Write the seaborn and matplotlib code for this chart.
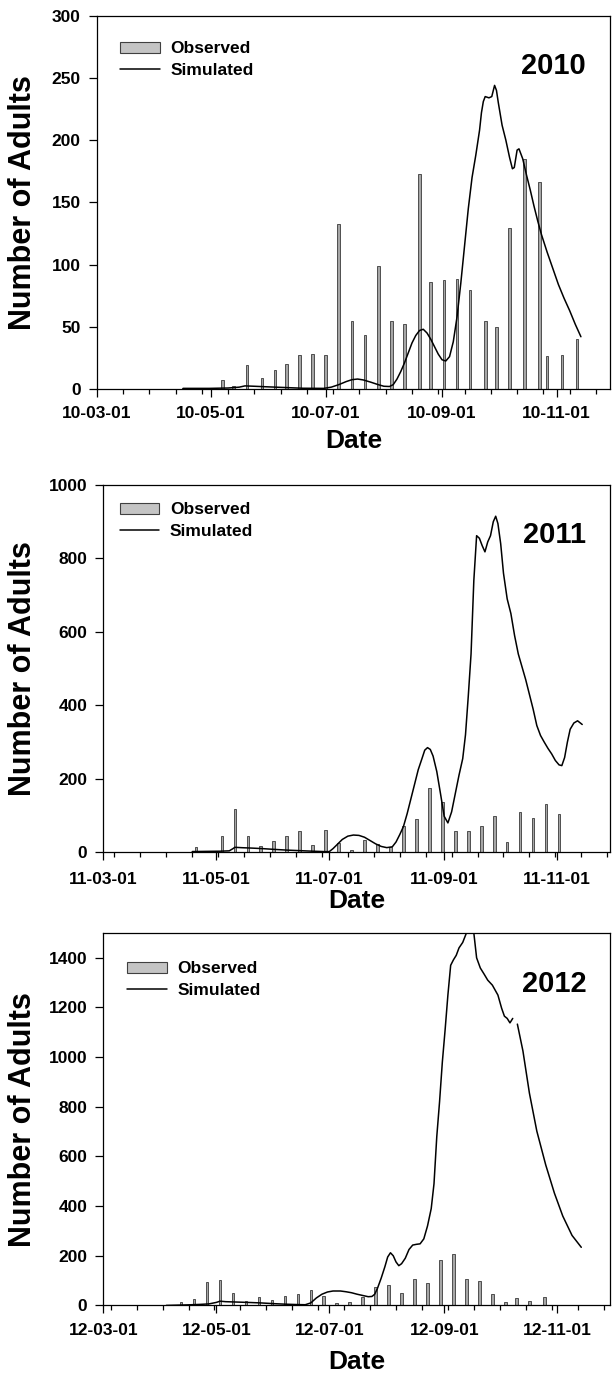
import numpy as np
import pandas as pd
import matplotlib
matplotlib.use("Agg")
import matplotlib.pyplot as plt
import matplotlib.dates as mdates
from matplotlib.patches import Patch
from matplotlib.lines import Line2D
import seaborn as sns

# ---------------- data ----------------
years = ["2010", "2011", "2012"]

obs2010_dates = ["2010-04-16", "2010-04-23", "2010-05-07", "2010-05-13", "2010-05-20", "2010-05-28",
                 "2010-06-04", "2010-06-10", "2010-06-17", "2010-06-24", "2010-07-01", "2010-07-08",
                 "2010-07-15", "2010-07-22", "2010-07-29", "2010-08-05", "2010-08-12", "2010-08-20",
                 "2010-08-26", "2010-09-02", "2010-09-09", "2010-09-16", "2010-09-24", "2010-09-30",
                 "2010-10-07", "2010-10-15", "2010-10-23", "2010-10-27", "2010-11-04", "2010-11-12"]
obs2010 = [1, 1, 7.5, 2.7, 19, 8.6, 15.5, 20.3, 27, 28.4, 27.6, 133, 55, 43.4, 98.5, 54.3, 52.2, 172.6,
           86, 87.8, 88.8, 79.7, 54.3, 49.8, 129.5, 184.6, 166.7, 26.2, 27.3, 40.4]

obs2011_dates = ["2011-04-13", "2011-04-20", "2011-05-04", "2011-05-11", "2011-05-18", "2011-05-25",
                 "2011-06-01", "2011-06-08", "2011-06-15", "2011-06-22", "2011-06-29", "2011-07-06",
                 "2011-07-13", "2011-07-20", "2011-07-27", "2011-08-03", "2011-08-10", "2011-08-17",
                 "2011-08-24", "2011-08-31", "2011-09-07", "2011-09-14", "2011-09-21", "2011-09-28",
                 "2011-10-05", "2011-10-12", "2011-10-19", "2011-10-26", "2011-11-02"]
obs2011 = [2, 13.6, 44.4, 117, 44.4, 16, 30.8, 44.4, 57, 20, 60.8, 26, 6.3, 33.6, 22.7, 15, 72.6, 90,
           174, 136, 58, 58, 72.6, 99, 28, 110.7, 92.6, 132.4, 103.5]

obs2012_dates = ["2012-04-12", "2012-04-19", "2012-04-26", "2012-05-03", "2012-05-10", "2012-05-17",
                 "2012-05-24", "2012-05-31", "2012-06-07", "2012-06-14", "2012-06-21", "2012-06-28",
                 "2012-07-05", "2012-07-12", "2012-07-19", "2012-07-26", "2012-08-02", "2012-08-09",
                 "2012-08-16", "2012-08-23", "2012-08-30", "2012-09-06", "2012-09-13", "2012-09-20",
                 "2012-09-27", "2012-10-04", "2012-10-10", "2012-10-17", "2012-10-25"]
obs2012 = [13.7, 24.5, 93, 102, 51, 16, 32.6, 20, 38, 44.7, 60.8, 38, 9.7, 13.7, 35, 75, 82, 51,
           105, 89, 183, 206, 105, 98, 44.7, 13.7, 31.4, 19, 34]

# simulated curves: days after March 1 and simulated number of adults
sim2010_day = [46, 60, 70, 76, 79, 84, 90, 100, 110, 121, 125, 129, 133, 136, 139, 142, 146, 150, 153,
               156, 158, 160, 162, 164, 166, 168, 170, 172, 174, 176, 178, 180, 182, 184, 186, 188, 190,
               192, 194, 196, 198, 200, 202, 204, 205, 206, 207, 209, 210.5, 212, 213, 214, 216, 218,
               220, 221.5, 222.5, 224, 225, 227, 229, 231, 233, 235, 237, 240, 243, 246, 249, 252, 255, 258]
sim2010 = [0.5, 0.5, 0.8, 1.5, 2.5, 2.2, 1.8, 1.2, 0.6, 0.5, 1.5, 3.5, 6, 7.5, 8, 7.3, 5.5, 3.5, 2.2,
           2, 3.5, 8, 14, 21, 29, 37, 43, 47, 48, 45, 40, 34, 28, 23.5, 22.5, 26, 38,
           58, 85, 115, 145, 170, 188, 208, 222, 231, 235, 234, 235, 244, 240, 230, 212, 200,
           186, 177, 178, 192, 193, 185, 172, 160, 147, 135, 124, 110, 97, 84, 73, 63, 52, 42]

sim2011_day = [48, 55, 63, 68, 70, 71, 75, 80, 86, 92, 99, 106, 113, 120, 122, 124, 126, 129, 132, 135,
               138, 141, 144, 147, 150, 153, 156, 158, 160, 162, 164, 166, 168, 170, 172, 173.5, 175,
               176.5, 178, 180, 182, 184, 186, 188, 190, 192, 194, 195.5, 197, 198.5, 200, 201.5, 203,
               204.5, 206, 207.5, 209, 210.5, 211.8, 213, 214.5, 216, 218, 220, 222, 224, 226, 228, 230,
               232, 234, 236, 238, 240, 242, 244, 246, 247.5, 249, 250.5, 252, 254, 256, 258.5]
sim2011 = [2, 2.5, 3, 4, 10, 13.6, 12.5, 11.5, 10, 8, 6, 4.5, 3, 1.8, 2, 10, 20, 35, 44, 47,
           46, 41, 32, 23, 16, 12.7, 15, 28, 48, 70, 105, 145, 185, 225, 255, 278, 285,
           280, 262, 220, 160, 98, 80, 110, 160, 210, 255, 320, 425, 540, 740, 862, 855,
           835, 818, 845, 862, 900, 915, 895, 840, 760, 690, 650, 590, 540, 505, 470, 430,
           390, 345, 318, 300, 283, 268, 250, 238, 236, 258, 300, 335, 352, 358, 348]

sim2012_day = [34, 45, 52, 57, 61, 63, 66, 70, 78, 85, 92, 98, 104, 109, 112, 115, 118, 121, 124, 128,
               131, 134, 137, 140, 143, 145, 146.5, 148, 150, 152, 153.5, 155, 156.5, 158, 159.5, 161,
               163, 165, 167, 169, 171, 173, 175, 177, 178.5, 180, 181.5, 183, 184.5, 186, 187.5, 189,
               190.5, 192, 194, 196, 198, 200, 201.5, 203.5, 205.5, 207.5, 210, 213, 215, 216.5, 218,
               219.5, 221, 222.3, 223.5, 226.5, 230, 234, 238.8, 243.5, 248, 253, 258]
sim2012 = [0, 2, 4, 6, 12, 17, 15, 14, 12, 10, 7, 5, 3.5, 2.7, 10, 30, 45, 54, 58, 58,
           55, 51, 45, 40, 35, 36, 45, 69, 110, 156, 195, 212, 200, 175, 160, 168,
           190, 225, 243, 246, 248, 268, 320, 390, 490, 680, 820, 980, 1110, 1250, 1370, 1392,
           1410, 1440, 1462, 1500, 1540, 1500, 1400, 1359, 1335, 1310, 1290, 1250, 1197, 1165, 1156,
           1138, 1156, np.nan, 1133, 1025, 855, 702, 566, 452, 360, 282, 234]

obs_dates = [obs2010_dates, obs2011_dates, obs2012_dates]
obs_vals = [obs2010, obs2011, obs2012]
sim_days = [sim2010_day, sim2011_day, sim2012_day]
sim_vals = [sim2010, sim2011, sim2012]
y_max = [300, 1000, 1500]
y_ticks = [np.arange(0, 301, 50), np.arange(0, 1001, 200), np.arange(0, 1401, 200)]

# ---------------- style ----------------
sns.set_theme(style="ticks")
plt.rcParams['font.family'] = ['Liberation Sans', 'DejaVu Sans']
plt.rcParams['font.weight'] = 'bold'
for k in ['text.color', 'axes.labelcolor', 'xtick.color', 'ytick.color', 'axes.edgecolor']:
    plt.rcParams[k] = 'black'

W, H = 613, 1380
fig = plt.figure(figsize=(W / 100, H / 100), dpi=100)

# axes boxes in pixels: left, right, top, bottom
boxes = [(96.7, 610, 15.7, 389.0), (103.3, 610, 485.0, 852.3), (103.3, 610, 933.0, 1305.4)]
legend_anchor = [(0.046, 0.931), (0.032, 0.953), (0.0466, 0.924)]
xlabel_y = [-0.139, -0.132, -0.152]
xtick_pad = [6.5, 8.0, 6.5]

for i, yr in enumerate(years):
    l, r, t, b = boxes[i]
    ax = fig.add_axes([l / W, 1 - b / H, (r - l) / W, (b - t) / H])
    start = pd.Timestamp(f"{yr}-03-01")

    dates = pd.to_datetime(obs_dates[i])
    ax.bar(dates, obs_vals[i], width=1.4, color="#a6a6a6", edgecolor="#3a3a3a",
           linewidth=0.6, zorder=2)

    sd = start + pd.to_timedelta(np.array(sim_days[i], dtype=float), unit="D")
    sv = np.array(sim_vals[i], dtype=float)
    df = pd.DataFrame({"date": sd, "n": sv})
    seg = df["n"].isna().cumsum()
    for _, part in df[df["n"].notna()].groupby(seg[df["n"].notna()]):
        sns.lineplot(data=part, x="date", y="n", ax=ax, color="black", linewidth=1.1,
                     estimator=None, legend=False, zorder=3)

    ax.set_xlim(start, start + pd.Timedelta(days=273.5))
    ax.set_ylim(0, y_max[i])
    ax.set_yticks(y_ticks[i])

    majors = pd.to_datetime([f"{yr}-03-01", f"{yr}-05-01", f"{yr}-07-01", f"{yr}-09-01", f"{yr}-11-01"])
    ax.set_xticks(majors)
    ax.xaxis.set_major_formatter(mdates.DateFormatter("%y-%m-%d"))
    minors = pd.date_range(start, start + pd.Timedelta(days=273), freq="2W-MON")
    ax.set_xticks(minors, minor=True)

    for s in ax.spines.values():
        s.set_color("black")
        s.set_linewidth(0.9)
    ax.tick_params(axis="both", which="both", direction="out", color="black", width=0.9,
                   top=False, right=False)
    ax.tick_params(axis="both", which="major", length=6, labelsize=12.5, labelcolor="black")
    ax.tick_params(axis="x", which="major", pad=xtick_pad[i])
    ax.tick_params(axis="y", which="major", pad=5.5)
    ax.tick_params(axis="x", which="minor", length=3.5)
    for lab in ax.get_xticklabels() + ax.get_yticklabels():
        lab.set_fontweight("bold")

    ax.set_xlabel("Date", fontsize=19, fontweight="bold", color="black")
    ax.xaxis.set_label_coords(0.5, xlabel_y[i])
    ax.xaxis.label.set_verticalalignment("center")
    ax.set_ylabel("Number of Adults", fontsize=22, fontweight="bold", color="black")
    ax.yaxis.set_label_coords((23 - l) / (r - l), 0.5)
    ax.yaxis.label.set_verticalalignment("center")

    ax.text(0.89, 0.864, yr, transform=ax.transAxes, ha="center", va="center",
            fontsize=21, fontweight="bold", color="black")

    handles = [Patch(facecolor="#c4c4c4", edgecolor="#404040", linewidth=0.8),
               Line2D([], [], color="black", linewidth=1.1)]
    ax.legend(handles, ["Observed", "Simulated"], loc="upper left",
              bbox_to_anchor=legend_anchor[i], frameon=False,
              prop={"weight": "bold", "size": 12.5}, handlelength=2.3, handleheight=0.62,
              handletextpad=0.6, labelspacing=0.38, borderpad=0, borderaxespad=0)

fig.savefig("out.png", dpi=100)
